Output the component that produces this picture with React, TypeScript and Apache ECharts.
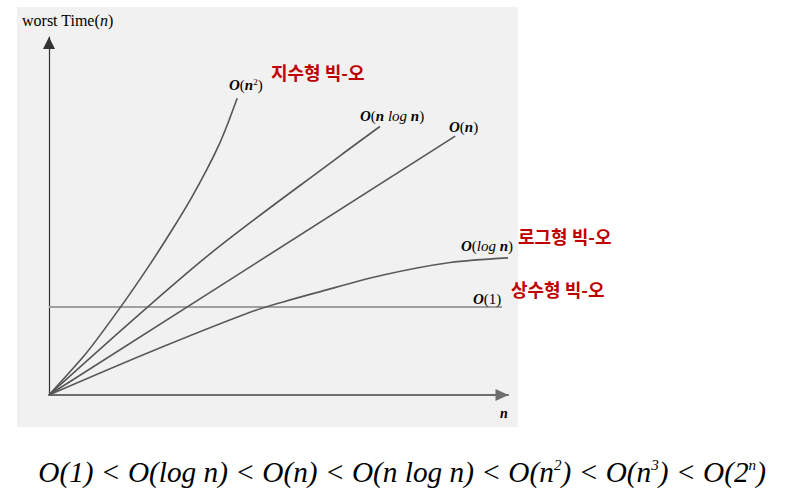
import React, { useEffect, useRef } from "react";
import * as echarts from "echarts";

// Curve values (n on 0..100, time on 0..100)
const constantCurve = [[0, 24.6], [98.7, 24.6]];
const logCurve = [[0, 0], [22, 12.0], [43.8, 23.1], [51, 26.0], [58.3, 28.6], [72.8, 33.5], [87.4, 37.0], [100, 38.3]];
const linearCurve = [[0, 0], [88.5, 72.3]];
const nLogNCurve = [[0, 0], [34.4, 38.7], [63.4, 66.8], [72.1, 75.0]];
const quadCurve = [[0, 0], [8, 11.5], [15.5, 24.4], [22, 36.5], [27, 46.5], [31, 55], [34.4, 63.0], [37, 69.8], [39, 76.0], [41, 82.9]];

const yAxisName = "worst Time(n)";
const xAxisName = "n";
const redLabels = ["지수형 빅-오", "로그형 빅-오", "상수형 빅-오"];

const SERIF = "'Liberation Serif', 'DejaVu Serif', serif";
const CJK = "'Noto Sans CJK KR', 'Noto Sans', sans-serif";
const DARK = "#3a3a3a";
const RED = "#c00000";

const labelRich = {
  o: { fontFamily: SERIF, fontSize: 15, fontStyle: "italic", fontWeight: "bold", color: DARK },
  p: { fontFamily: SERIF, fontSize: 15, color: DARK },
  i: { fontFamily: SERIF, fontSize: 15, fontStyle: "italic", fontWeight: "bold", color: DARK },
  l: { fontFamily: SERIF, fontSize: 15, fontStyle: "italic", color: DARK },
  s: { fontFamily: SERIF, fontSize: 9, color: DARK, verticalAlign: "top" },
};

const formulaRich = {
  t: { fontFamily: SERIF, fontSize: 29, fontStyle: "italic", color: "#222" },
  s: { fontFamily: SERIF, fontSize: 15, fontStyle: "italic", color: "#222", verticalAlign: "top" },
};

function curveSeries(name: string, data: number[][], color: string, width: number, smooth: number | boolean) {
  return {
    name,
    type: "line",
    data,
    smooth,
    showSymbol: false,
    symbol: "none",
    lineStyle: { color, width },
    silent: true,
  };
}

export default function App() {
  const ref = useRef<HTMLDivElement>(null);
  useEffect(() => {
    if (!ref.current) return;
    const chart = echarts.init(ref.current, undefined, { renderer: "svg" });
    const text = (x: number, y: number, t: string, rich: any, extra: any = {}) => ({
      type: "text",
      x,
      y,
      z: 10,
      style: { text: t, rich, textAlign: "left", textVerticalAlign: "middle", ...extra },
    });
    const redText = (x: number, y: number, t: string) => ({
      type: "text",
      x,
      y,
      z: 10,
      style: { text: t, font: `bold 18px ${CJK}`, fill: RED, textVerticalAlign: "middle" },
    });
    chart.setOption({
      animation: false,
      backgroundColor: "#ffffff",
      grid: { left: 49, right: 283, top: 37, bottom: 108, containLabel: false },
      xAxis: {
        type: "value",
        min: 0,
        max: 100,
        axisLabel: { show: false },
        axisTick: { show: false },
        splitLine: { show: false },
        axisLine: {
          show: true,
          symbol: ["none", "triangle"],
          symbolSize: [12, 13],
          symbolOffset: [0, -6],
          lineStyle: { color: "#6e6e6e", width: 2.2 },
        },
      },
      yAxis: {
        type: "value",
        min: 0,
        max: 100,
        axisLabel: { show: false },
        axisTick: { show: false },
        splitLine: { show: false },
        axisLine: {
          show: true,
          symbol: ["none", "triangle"],
          symbolSize: [12, 12],
          symbolOffset: [0, -6],
          lineStyle: { color: "#333", width: 1.2 },
        },
      },
      series: [
        curveSeries("O(1)", constantCurve, "#a0a0a0", 2, false),
        curveSeries("O(log n)", logCurve, "#5a5a5a", 1.6, 0.3),
        curveSeries("O(n)", linearCurve, "#555", 1.6, false),
        curveSeries("O(n log n)", nLogNCurve, "#555", 1.6, 0.3),
        curveSeries("O(n^2)", quadCurve, "#555", 1.6, 0.2),
      ],
      graphic: [
        { type: "rect", z: -100, shape: { x: 17, y: 7, width: 501, height: 420 }, style: { fill: "#f1f1f1" } },
        text(22, 20, "{p|worst Time(}{i|n}{p|)}", {
          p: { fontFamily: SERIF, fontSize: 16, color: "#444" },
          i: { fontFamily: SERIF, fontSize: 16, fontStyle: "italic", color: "#444" },
        }),
        text(500, 413, "{i|" + xAxisName + "}", {
          i: { fontFamily: SERIF, fontSize: 14, fontStyle: "italic", fontWeight: "bold", color: "#444" },
        }),
        text(229, 85, "{o|O}{p|(}{i|n}{s|2}{p|)}", labelRich),
        text(360, 116, "{o|O}{p|(}{i|n }{l|log }{i|n}{p|)}", labelRich),
        text(449, 127, "{o|O}{p|(}{i|n}{p|)}", labelRich),
        text(461, 246, "{o|O}{p|(}{l|log }{i|n}{p|)}", labelRich),
        text(473, 299, "{o|O}{p|(1)}", labelRich),
        redText(271, 72, redLabels[0]),
        redText(518, 236, redLabels[1]),
        redText(511, 289, redLabels[2]),
        {
          type: "text",
          x: 402,
          y: 472,
          z: 10,
          scaleX: 1.01,
          style: {
            text: "{t|O(1) < O(log n) < O(n) < O(n log n) < O(n}{s|2}{t|) < O(n}{s|3}{t|) < O(2}{s|n}{t|)}",
            rich: formulaRich,
            textAlign: "center",
            textVerticalAlign: "middle",
          },
        },
      ],
    });
    return () => chart.dispose();
  }, []);
  return (
    <div
      ref={ref}
      style={{ position: "fixed", left: 0, top: 0, width: 791, height: 503, background: "#fff" }}
    />
  );
}
